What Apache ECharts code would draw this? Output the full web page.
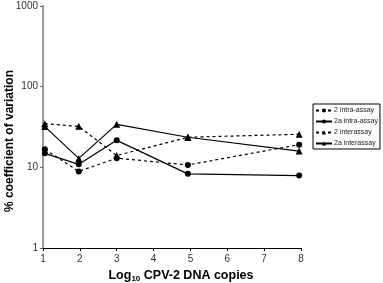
<!DOCTYPE html>
<html>
<head>
<meta charset="utf-8">
<script src="https://cdn.jsdelivr.net/npm/echarts@6/dist/echarts.min.js"></script>
<style>
  html, body { margin: 0; padding: 0; background: #fff; }
  #main { width: 383px; height: 283px; }
</style>
</head>
<body>
<div id="main"></div>
<script>
// x positions (log10 copies) as plotted
const copies = [1.05, 1.97, 3.0, 4.93, 7.95]
const intra2 = [16.7, 8.9, 13.0, 10.7, 19.1]
const intra2a = [14.9, 10.9, 21.6, 8.3, 7.9]
const inter2 = [34.8, 32.2, 14.0, 23.6, 25.7]
const inter2a = [32.0, 12.9, 34.1, 23.6, 15.9]
const names = ['2 intra-assay', '2a intra-assay', '2 interassay', '2a interassay']

function pairs(ys) {
  return copies.map((x, i) => [x, ys[i]])
}

function mkSeries(name, ys, dashed, symbol) {
  return {
    name: name,
    type: 'line',
    data: pairs(ys),
    symbol: symbol,
    symbolSize: symbol === 'triangle' ? 7 : 6,
    itemStyle: { color: '#000' },
    lineStyle: { color: '#000', width: 1.2, type: dashed ? [3, 3] : 'solid' },
    emphasis: { disabled: true },
    animation: false
  }
}

const chart = echarts.init(document.getElementById('main'))
const option = {
  backgroundColor: '#ffffff',
  animation: false,
  grid: { left: 43, right: 82, top: 6, bottom: 35, outerBoundsMode: 'none', containLabel: false },
  legend: {
    data: names,
    orient: 'vertical',
    left: 313,
    top: 104,
    itemWidth: 16,
    itemHeight: 5,
    itemGap: 4,
    padding: [3, 2, 2, 2],
    borderColor: '#000',
    borderWidth: 1,
    textStyle: { fontSize: 7, color: '#222', fontFamily: 'Liberation Sans', padding: [0, 0, 0, -3] }
  },
  xAxis: {
    type: 'value',
    min: 1,
    max: 8,
    interval: 1,
    name: '{a|Log}{s|10}{a| CPV-2 DNA copies}',
    nameLocation: 'middle',
    nameGap: 21,
    nameMoveOverlap: false,
    nameTextStyle: {
      padding: [0, 0, 0, 18],
      rich: {
        a: { fontSize: 12.5, fontWeight: 'bold', fontFamily: 'Liberation Sans', color: '#000' },
        s: { fontSize: 8, fontWeight: 'bold', fontFamily: 'Liberation Sans', color: '#000', verticalAlign: 'bottom', padding: [6, 0, 0, 0] }
      }
    },
    axisLine: { lineStyle: { color: '#000', width: 1 } },
    axisTick: { length: 3, lineStyle: { color: '#000' } },
    axisLabel: { fontSize: 10, color: '#333', fontFamily: 'Liberation Sans', margin: 6 },
    splitLine: { show: false }
  },
  yAxis: {
    type: 'log',
    logBase: 10,
    min: 1,
    max: 1000,
    name: '% coefficient of variation',
    nameLocation: 'middle',
    nameGap: 27,
    nameMoveOverlap: false,
    nameTextStyle: { fontSize: 12, fontWeight: 'bold', fontFamily: 'Liberation Sans', color: '#000', padding: [0, 28, 0, 0] },
    axisLine: { lineStyle: { color: '#999', width: 2 } },
    axisTick: { length: 3, lineStyle: { color: '#666' } },
    axisLabel: { fontSize: 10, color: '#333', fontFamily: 'Liberation Sans', margin: 5, formatter: v => String(Math.round(v)) },
    splitLine: { show: false }
  },
  series: [
    mkSeries(names[0], intra2, true, 'circle'),
    mkSeries(names[1], intra2a, false, 'circle'),
    mkSeries(names[2], inter2, true, 'triangle'),
    mkSeries(names[3], inter2a, false, 'triangle')
  ]
}
chart.setOption(option)
</script>
</body>
</html>
